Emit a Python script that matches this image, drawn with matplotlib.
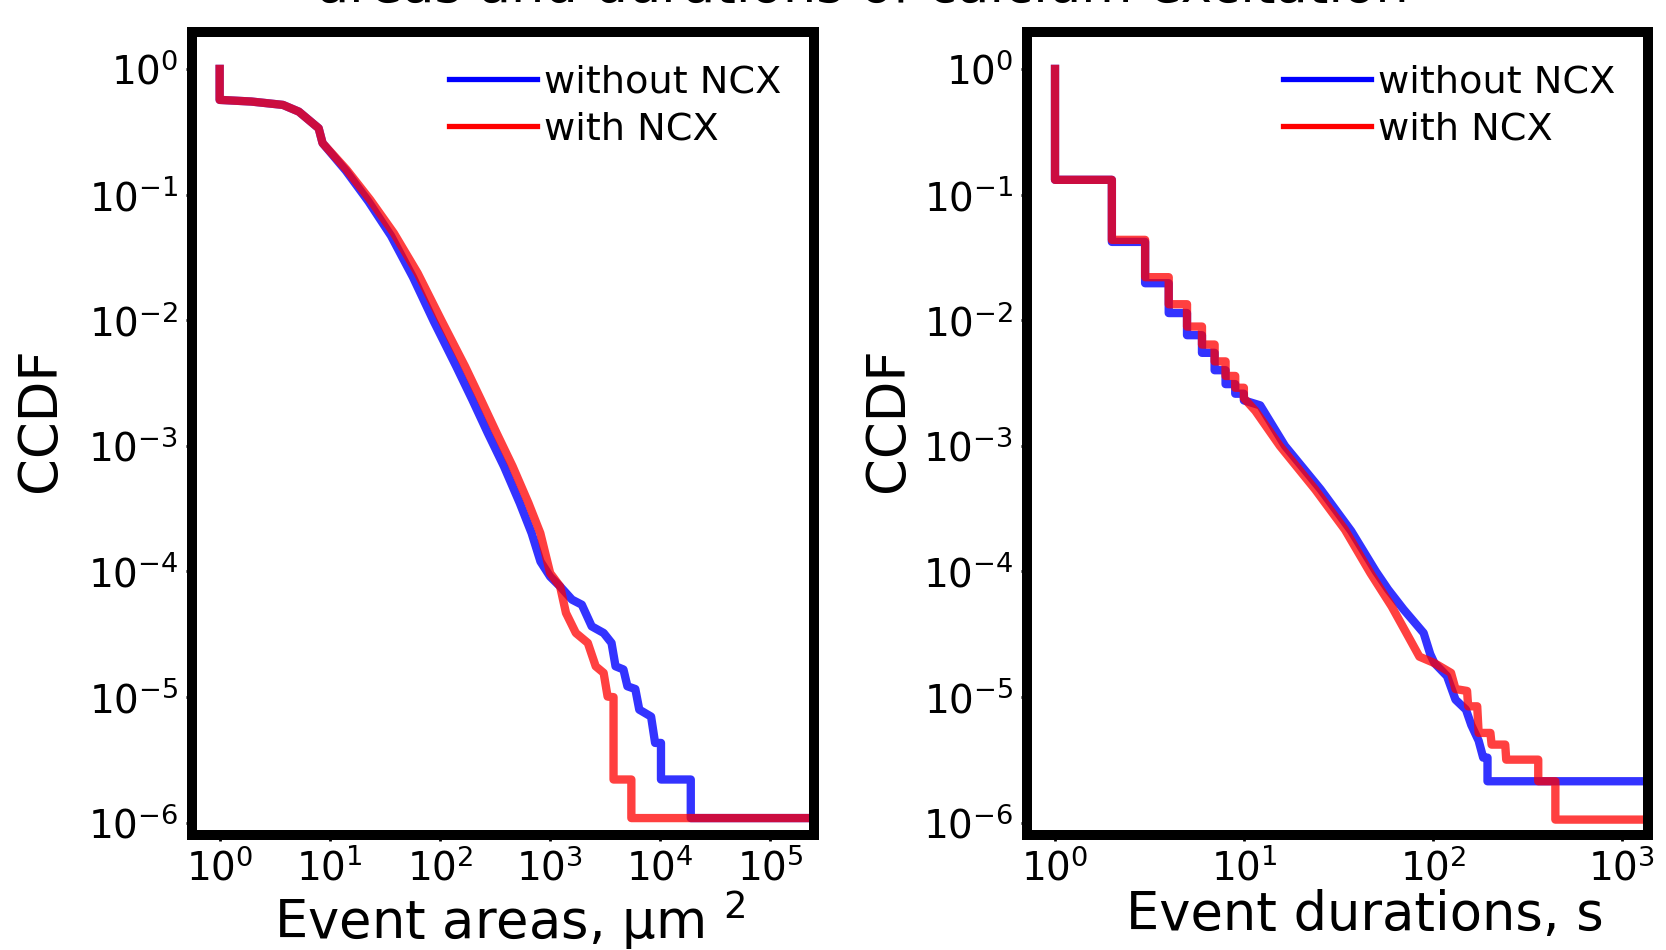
import matplotlib
matplotlib.use("Agg")
import matplotlib.pyplot as plt
from matplotlib.lines import Line2D

# CCDF of event areas (um^2)
area_x_without = [1, 1, 1.94, 3.76, 5.24, 7.93, 8.6, 14, 22.5, 36, 57, 88, 141, 197, 273, 382,
                  532, 681, 820, 1004, 1236, 1585, 1946, 2393, 3071, 3622, 3939, 4647, 5051,
                  5957, 6471, 8284, 9010, 10190, 10190, 19000, 19000, 2.5e5]
area_y_without = [1, 0.567, 0.55, 0.517, 0.457, 0.337, 0.257, 0.155, 0.088, 0.047, 0.022, 0.0098,
                  0.00428, 0.00233, 0.00126, 6.86e-4, 3.5e-4, 2.02e-4, 1.2e-4, 9.1e-5, 7.6e-5,
                  5.97e-5, 5.44e-5, 3.66e-5, 3.24e-5, 2.7e-5, 1.76e-5, 1.66e-5, 1.22e-5, 1.16e-5,
                  7.95e-6, 7.0e-6, 4.32e-6, 4.32e-6, 2.21e-6, 2.21e-6, 1.09e-6, 1.09e-6]

area_x_with = [1, 1, 1.94, 3.76, 5.24, 7.93, 8.6, 14.2, 23.3, 38.2, 62.8, 103, 169.5, 236, 328,
               458, 638, 817, 1004, 1236, 1397, 1718, 2206, 2602, 3071, 3337, 3778, 3778, 5484,
               5484, 2.5e5]
area_y_with = [1, 0.567, 0.55, 0.517, 0.457, 0.337, 0.257, 0.158, 0.0908, 0.0493, 0.0237, 0.01,
               0.00428, 0.00233, 0.00126, 6.86e-4, 3.5e-4, 2.02e-4, 9.7e-5, 7.6e-5, 4.68e-5,
               3.24e-5, 2.7e-5, 1.76e-5, 1.56e-5, 1.01e-5, 1.0e-5, 2.21e-6, 2.21e-6, 1.09e-6,
               1.09e-6]

# CCDF of event durations (s)
dur_x_without = [1, 1, 2, 2, 3, 3, 4, 4, 5, 5, 6, 6, 7, 7, 8, 8, 9, 9, 10, 10, 12.2, 16.5, 25.5,
                 37, 50, 58, 70, 89.5, 97, 102, 119, 132, 150, 160, 175, 185, 195, 195, 1400]
dur_y_without = [1, 0.131, 0.131, 0.042, 0.042, 0.0197, 0.0197, 0.0114, 0.0114, 0.0076, 0.0076,
                 0.0055, 0.0055, 0.0040, 0.0040, 0.0031, 0.0031, 0.0026, 0.0026, 0.0023, 0.0021,
                 1.0e-3, 4.5e-4, 2.1e-4, 1.0e-4, 7.2e-5, 5.0e-5, 3.24e-5, 2.2e-5, 1.87e-5,
                 1.47e-5, 9.55e-6, 7.95e-6, 6.0e-6, 4.5e-6, 3.3e-6, 3.3e-6, 2.14e-6, 2.14e-6]

dur_x_with = [1, 1, 2, 2, 3, 3, 4, 4, 5, 5, 6, 6, 7, 7, 8, 8, 9, 9, 10, 10, 11.5, 15.5, 23.9,
              34.3, 46.8, 60.6, 72.5, 85, 101.8, 125, 132, 152, 154, 172, 175, 202, 205, 242, 245,
              362, 362, 446, 446, 1400]
dur_y_with = [1, 0.131, 0.131, 0.0436, 0.0436, 0.022, 0.022, 0.0134, 0.0134, 0.0089, 0.0089,
              0.0064, 0.0064, 0.0047, 0.0047, 0.0036, 0.0036, 0.0029, 0.0029, 0.0024, 0.0019,
              1.0e-3, 4.48e-4, 2.15e-4, 9.7e-5, 5.27e-5, 3.24e-5, 2.1e-5, 1.87e-5, 1.56e-5,
              1.16e-5, 1.12e-5, 8.45e-6, 8.45e-6, 5.19e-6, 5.19e-6, 4.19e-6, 4.19e-6, 3.18e-6,
              3.18e-6, 2.14e-6, 2.14e-6, 1.06e-6, 1.06e-6]

labels = ["without NCX", "with NCX"]
colors = ["blue", "red"]

fig = plt.figure(figsize=(16.66, 9.5), dpi=100)
ax1 = fig.add_axes([0.1152, 0.1211, 0.3734, 0.8453])
ax2 = fig.add_axes([0.6164, 0.1211, 0.3728, 0.8453])

ax1.plot(area_x_without, area_y_without, color=colors[0], lw=6, alpha=0.8)
ax1.plot(area_x_with, area_y_with, color=colors[1], lw=6, alpha=0.75)
ax2.plot(dur_x_without, dur_y_without, color=colors[0], lw=6, alpha=0.8)
ax2.plot(dur_x_with, dur_y_with, color=colors[1], lw=6, alpha=0.75)

handles = [Line2D([], [], color=c, lw=3.8) for c in colors]
for ax in (ax1, ax2):
    ax.set_xscale("log")
    ax.set_yscale("log")
    ax.set_ylim(8e-7, 1.97)
    ax.set_yticks([1, 1e-1, 1e-2, 1e-3, 1e-4, 1e-5, 1e-6])
    ax.tick_params(labelsize=28, length=4, width=2, pad=6)
    ax.set_ylabel("CCDF", fontsize=38)
    for s in ax.spines.values():
        s.set_linewidth(7.2)
    ax.legend(handles, labels, loc="upper right", frameon=False, fontsize=27.5,
              handlelength=2.3, handletextpad=0.2, labelspacing=0.3, borderaxespad=0.45)

ax1.set_xlim(0.56, 2.5e5)
ax1.set_xticks([1, 1e1, 1e2, 1e3, 1e4, 1e5])
ax2.set_xlim(0.71, 1380)
ax2.set_xticks([1, 1e1, 1e2, 1e3])
for ax in (ax1, ax2):
    ax.minorticks_off()

ax1.set_xlabel("Event areas, μm $^2$", fontsize=38, labelpad=0)
ax2.set_xlabel("Event durations, s", fontsize=38, labelpad=0)
ax1.xaxis.label.set_x(0.511)
ax2.xaxis.label.set_x(0.544)
ax1.yaxis.set_label_coords(-0.203, 0.517)
ax2.yaxis.set_label_coords(-0.182, 0.517)

fig.text(0.518, 1 - 2 / 950, "areas and durations of calcium excitation",
         ha="center", va="baseline", fontsize=38)

fig.savefig("out.png", dpi=100)
